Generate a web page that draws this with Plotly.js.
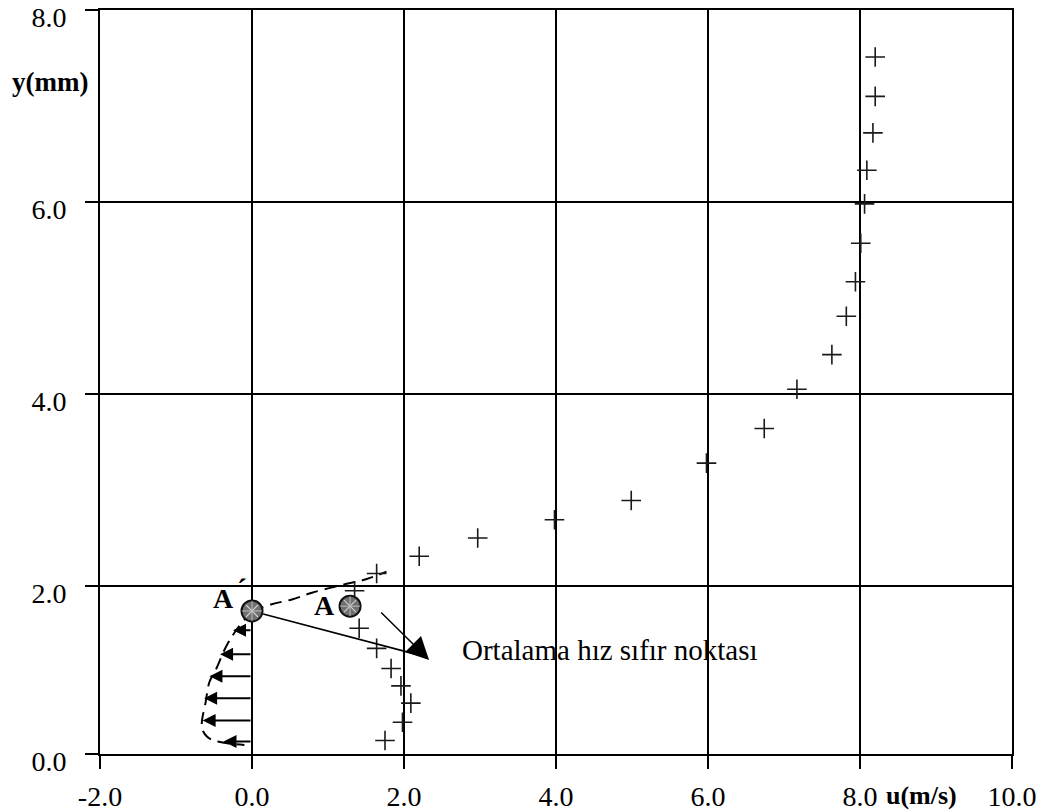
<!DOCTYPE html>
<html>
<head>
<meta charset="utf-8">
<script src="https://cdn.plot.ly/plotly-3.0.1.min.js"></script>
<style>html,body{margin:0;padding:0;background:#fff}</style>
</head>
<body>
<div id="chart" style="width:1043px;height:812px"></div>
<script>
// Measured mean velocity u (m/s) against wall distance y (mm)
const uMeasured = [8.20, 8.20, 8.17, 8.09, 8.06, 8.01, 7.94, 7.82, 7.63, 7.17, 6.74, 5.98, 4.99,
                   3.98, 2.97, 2.20, 1.64, 1.35, 1.41, 1.64, 1.83, 1.96, 2.09, 1.98, 1.75];
const yMeasured = [7.51, 7.10, 6.72, 6.33, 5.98, 5.57, 5.17, 4.81, 4.41, 4.05, 3.64, 3.28, 2.89,
                   2.69, 2.50, 2.31, 2.13, 1.95, 1.56, 1.35, 1.14, 0.96, 0.78, 0.58, 0.39];

// Reverse-flow profile below the zero point: arrow tips (u) at each height (y)
const backflowU = [-0.25, -0.42, -0.56, -0.63, -0.65, -0.375];
const backflowY = [1.54, 1.29, 1.06, 0.83, 0.60, 0.38];

// Dashed envelope through the reverse-flow arrow tips
const envelopeU = [0, -0.19, -0.34, -0.475, -0.56, -0.61, -0.66, -0.65, -0.59, -0.50, -0.30, -0.10];
const envelopeY = [1.74, 1.56, 1.37, 1.13, 1.00, 0.79, 0.58, 0.50, 0.43, 0.39, 0.36, 0.345];

// Dashed line from the zero point up into the shear layer
const shearU = [0, 0.26, 0.525, 0.79, 1.18, 1.50, 1.77];
const shearY = [1.74, 1.81, 1.86, 1.93, 2.01, 2.07, 2.15];

// Mean velocity zero points A' and A
const zeroU = [0, 1.29];
const zeroY = [1.74, 1.79];

// Axis ticks
const xTicks = [-2, 0, 2, 4, 6, 8, 10];
const xTickText = ['-2.0', '0.0', '2.0', '4.0', '6.0', '8.0', '10.0'];
const yTicks = [0.25, 2, 4, 6, 8];
const yTickText = ['0.0', '2.0', '4.0', '6.0', '8.0'];

const serif = 'Liberation Serif, Times New Roman, serif';

const traces = [
  {
    x: envelopeU, y: envelopeY, mode: 'lines', hoverinfo: 'skip',
    line: {color: '#000', width: 2, dash: '12px,7px', shape: 'spline'}
  },
  {
    x: shearU, y: shearY, mode: 'lines', hoverinfo: 'skip',
    line: {color: '#000', width: 2, dash: '12px,7px', shape: 'spline'}
  },
  {
    x: uMeasured, y: yMeasured, mode: 'markers',
    marker: {symbol: 'cross-thin-open', size: 14, color: '#1a1a1a', line: {color: '#1a1a1a', width: 1.6}}
  },
  // hatched discs for the zero points: dark rim, grey fill, light cross-hatch
  {
    x: zeroU, y: zeroY, mode: 'markers',
    marker: {symbol: 'circle', size: 21, color: '#707070', line: {color: '#111', width: 2}}
  },
  {
    x: zeroU, y: zeroY, mode: 'markers', hoverinfo: 'skip',
    marker: {symbol: 'x-thin-open', size: 12, color: '#cfcfcf', line: {color: '#cfcfcf', width: 1.2}}
  },
  {
    x: zeroU, y: zeroY, mode: 'markers', hoverinfo: 'skip',
    marker: {symbol: 'cross-thin-open', size: 14, color: '#bdbdbd', line: {color: '#bdbdbd', width: 1}}
  }
];

const annotations = [
  {xref: 'paper', yref: 'paper', x: -0.055, y: 0.903, xanchor: 'center', yanchor: 'middle',
   text: '<b>y(mm)</b>', showarrow: false, font: {family: serif, size: 27, color: '#000'}},
  {xref: 'paper', yref: 'paper', x: 0.901, y: -0.056, xanchor: 'center', yanchor: 'middle',
   text: '<b>u(m/s)</b>', showarrow: false, font: {family: serif, size: 26, color: '#000'}},
  {x: 0.95, y: 1.80, text: '<b>A</b>', showarrow: false,
   font: {family: serif, size: 28, color: '#000'}},
  {x: -0.375, y: 1.875, text: '<b>A</b>', showarrow: false,
   font: {family: serif, size: 28, color: '#000'}},
  {x: -0.13, y: 1.97, text: '<b>´</b>', showarrow: false, yanchor: 'middle',
   font: {family: serif, size: 30, color: '#000'}},
  {x: 2.74, y: 1.33, text: 'Ortalama hız sıfır noktası', showarrow: false, xanchor: 'left',
   font: {family: serif, size: 29, color: '#000'}},
  // pointer lines from both zero points to the label
  {x: 2.20, y: 1.28, ax: zeroU[0], ay: zeroY[0], axref: 'x', ayref: 'y', text: '',
   showarrow: true, arrowhead: 0, arrowwidth: 1.6, arrowcolor: '#000', startstandoff: 10},
  {x: 2.33, y: 1.23, ax: 1.68, ay: 1.74, axref: 'x', ayref: 'y', text: '',
   showarrow: true, arrowhead: 2, arrowsize: 3.0, arrowwidth: 1.5, arrowcolor: '#000'}
];

// reverse-flow velocity arrows starting on the u = 0 line
backflowU.forEach((u, i) => {
  annotations.push({
    x: u, y: backflowY[i], ax: 0, ay: backflowY[i], axref: 'x', ayref: 'y', text: '',
    showarrow: true, arrowhead: 2, arrowsize: 1.3, arrowwidth: 2, arrowcolor: '#000'
  });
});

const axisCommon = {
  showline: true, mirror: true, linecolor: '#000', linewidth: 2,
  showgrid: true, gridcolor: '#000', gridwidth: 2, zeroline: false,
  ticks: 'outside', ticklen: 13, tickwidth: 2, tickcolor: '#000',
  ticklabeloverflow: 'allow',
  tickfont: {family: serif, size: 28, color: '#000'}
};

const layout = {
  width: 1043, height: 812,
  margin: {l: 100, r: 31, t: 10, b: 58},
  paper_bgcolor: '#fff', plot_bgcolor: '#fff',
  showlegend: false,
  xaxis: Object.assign({}, axisCommon, {
    range: [-2, 10], tickvals: xTicks, ticktext: xTickText, ticklabelstandoff: 3
  }),
  yaxis: Object.assign({}, axisCommon, {
    range: [0.25, 8], tickvals: yTicks, ticktext: yTickText, ticklabelstandoff: 13,
    ticklabelshift: 7
  }),
  annotations: annotations
};

Plotly.newPlot('chart', traces, layout, {displayModeBar: false, staticPlot: true});
</script>
</body>
</html>
